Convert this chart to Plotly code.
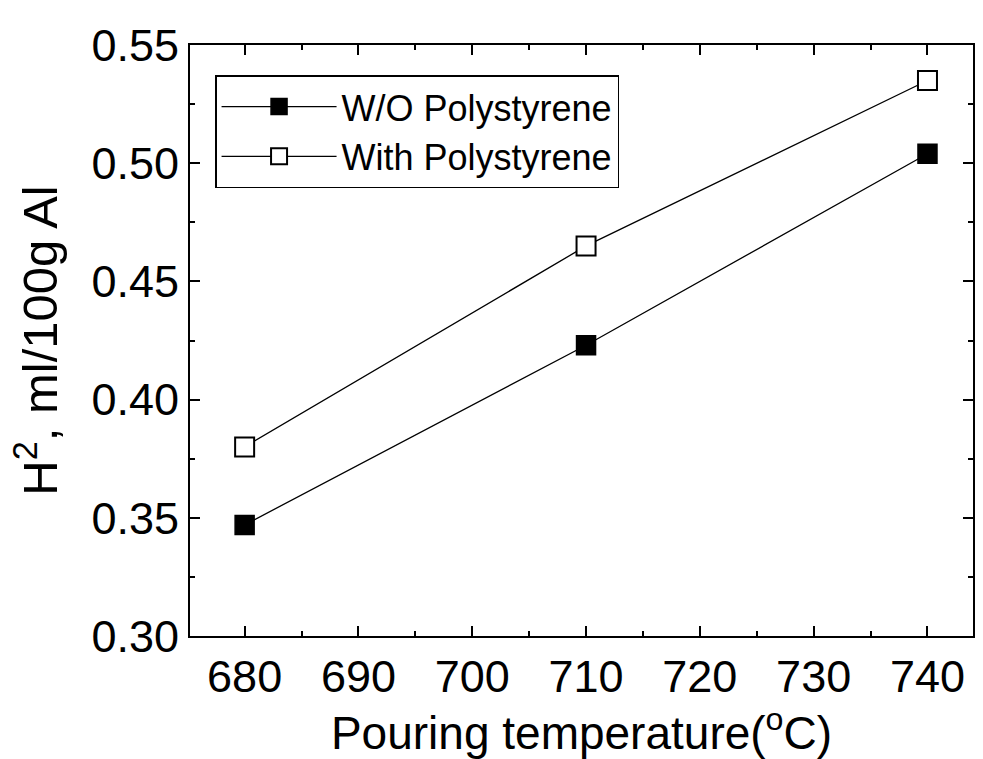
import plotly.graph_objects as go

temps = [680, 710, 740]
wo_poly = [0.347, 0.423, 0.504]
with_poly = [0.380, 0.465, 0.535]
series_names = ["W/O Polystyrene", "With Polystyrene"]

fig = go.Figure()
fig.add_trace(go.Scatter(
    x=temps, y=wo_poly, name=series_names[0], mode="lines+markers",
    line=dict(color="black", width=1.3),
    marker=dict(symbol="square", size=19, color="black", line=dict(color="black", width=1.5)),
))
fig.add_trace(go.Scatter(
    x=temps, y=with_poly, name=series_names[1], mode="lines+markers",
    line=dict(color="black", width=1.3),
    marker=dict(symbol="square", size=19, color="white", line=dict(color="black", width=2)),
))

font = "Liberation Sans, Arial, sans-serif"
axis_common = dict(
    showline=True, linecolor="black", linewidth=2, mirror="allticks",
    ticks="inside", ticklen=10, tickwidth=2, tickcolor="black",
    showgrid=False, zeroline=False,
    tickfont=dict(family=font, size=45, color="black"),
)
fig.update_xaxes(
    range=[675.2, 744], dtick=10, tick0=680,
    minor=dict(ticks="inside", ticklen=5, dtick=5, tickwidth=1.5, tickcolor="black"),
    title=dict(text="Pouring temperature(<sup>o</sup>C)", font=dict(family=font, size=46, color="black"), standoff=0),
    **axis_common,
)
fig.update_yaxes(
    range=[0.30, 0.55], dtick=0.05, tickformat=".2f",
    minor=dict(ticks="inside", ticklen=5, dtick=0.025, tickwidth=1.5, tickcolor="black"),
    title=dict(text="H<sup>2</sup>, ml/100g Al", font=dict(family=font, size=49, color="black"), standoff=18),
    **axis_common,
)
fig.update_layout(
    width=983, height=759,
    margin=dict(l=190, r=8, t=45, b=123),
    paper_bgcolor="white", plot_bgcolor="white",
    font=dict(family=font, color="black"),
    legend=dict(
        x=0.032, y=0.949, xanchor="left", yanchor="top",
        bordercolor="black", borderwidth=1.5, bgcolor="white",
        font=dict(family=font, size=36, color="black"),
        itemwidth=115,
    ),
    showlegend=True,
)
fig.write_html("out.html")
